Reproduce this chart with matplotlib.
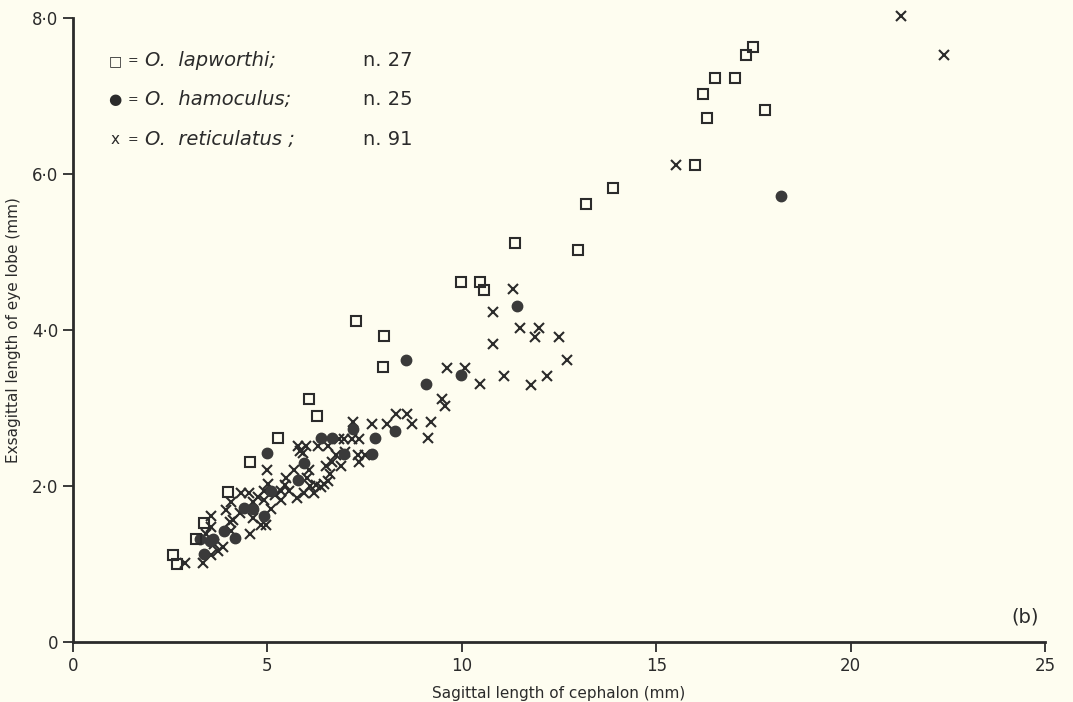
import matplotlib
matplotlib.use('Agg')
import matplotlib.pyplot as plt

# O. lapworthi (squares)
lap_x = [2.57, 2.67, 3.17, 3.36, 3.98, 4.56, 5.27, 6.08, 6.27, 7.27, 8.0, 7.98, 9.99, 10.48,
         10.58, 11.37, 13.0, 13.2, 13.9, 15.99, 16.2, 16.3, 16.5, 17.02, 17.3, 17.5, 17.8]
lap_y = [1.12, 1.00, 1.32, 1.52, 1.92, 2.31, 2.61, 3.11, 2.90, 4.12, 3.92, 3.52, 4.62, 4.62,
         4.51, 5.12, 5.02, 5.62, 5.82, 6.12, 7.02, 6.72, 7.23, 7.23, 7.53, 7.63, 6.82]

# O. hamoculus (filled circles)
ham_x = [3.37, 3.26, 3.60, 3.88, 4.17, 4.40, 4.62, 4.92, 4.98, 5.09, 5.78, 5.95, 6.38,
         6.66, 6.97, 7.19, 7.68, 7.77, 8.28, 8.57, 9.08, 9.97, 11.42, 18.2, 3.52]
ham_y = [1.13, 1.32, 1.32, 1.42, 1.33, 1.72, 1.71, 1.61, 2.42, 1.93, 2.07, 2.30, 2.61,
         2.61, 2.41, 2.73, 2.41, 2.61, 2.71, 3.62, 3.31, 3.42, 4.31, 5.72, 1.30]

# O. reticulatus (crosses)
ret_x = [21.3, 22.4, 15.5, 11.32, 10.8, 11.5, 11.99, 11.89, 12.49, 10.8, 12.7, 9.61, 10.08,
         10.46, 11.08, 11.78, 12.2, 9.5, 9.58, 9.2, 9.12, 8.08, 8.3, 8.6, 8.73, 7.68, 7.19,
         6.97, 7.17, 7.36, 5.78, 5.99, 6.31, 6.55, 6.76, 7.32, 7.36, 6.67, 4.98, 5.69, 6.08,
         6.5, 5.48, 6.03, 6.55, 6.38, 6.25, 6.46, 6.62, 5.01, 4.92, 5.35, 5.56, 5.95, 6.2,
         5.35, 4.92, 4.33, 4.52, 4.07, 3.94, 4.62, 4.62, 4.84, 4.97, 4.11, 3.55, 3.55, 4.07,
         4.56, 3.85, 3.73, 3.55, 3.34, 2.87, 5.44, 4.05, 3.43, 5.91, 6.83, 4.75, 5.2, 6.1,
         5.75, 4.3, 5.85, 7.0, 3.62, 5.1, 6.9, 7.5]
ret_y = [8.03, 7.53, 6.12, 4.52, 4.23, 4.03, 4.02, 3.91, 3.91, 3.82, 3.62, 3.51, 3.51,
         3.31, 3.41, 3.30, 3.41, 3.12, 3.03, 2.82, 2.61, 2.80, 2.92, 2.92, 2.80, 2.80, 2.82,
         2.60, 2.60, 2.60, 2.51, 2.51, 2.51, 2.51, 2.40, 2.40, 2.31, 2.31, 2.21, 2.21, 2.21,
         2.25, 2.10, 2.10, 2.06, 1.99, 2.01, 2.02, 2.15, 2.03, 1.93, 1.93, 1.93, 1.91, 1.91,
         1.82, 1.82, 1.91, 1.91, 1.80, 1.69, 1.80, 1.59, 1.50, 1.50, 1.56, 1.61, 1.48, 1.42,
         1.39, 1.22, 1.16, 1.12, 1.01, 1.01, 2.01, 1.54, 1.39, 2.42, 2.60, 1.86, 1.88, 2.00,
         1.85, 1.65, 2.45, 2.43, 1.25, 1.70, 2.25, 2.40]

legend_names = ['O.  lapworthi;', 'O.  hamoculus;', 'O.  reticulatus ;']
legend_counts = ['n. 27', 'n. 25', 'n. 91']
legend_syms = ['\u25a1', '\u25cf', 'x']

bg = '#fefdf0'
ink = '#2b2b2b'

fig = plt.figure(figsize=(10.73, 7.02), dpi=100, facecolor=bg)
ax = fig.add_axes([0.068, 0.0855, 0.906, 0.889], facecolor=bg)

ax.plot(ret_x, ret_y, 'x', ms=6.5, mew=1.5, color=ink, ls='none', clip_on=False)
ax.plot(ham_x, ham_y, 'o', ms=7.5, color='#3a3a3a', mec='#3a3a3a', ls='none')
ax.plot(lap_x, lap_y, 's', ms=7, mfc='none', mec=ink, mew=1.5, ls='none')

ax.set_xlim(0, 25)
ax.set_ylim(0, 8)
for side in ['top', 'right']:
    ax.spines[side].set_visible(False)
for side in ['left', 'bottom']:
    ax.spines[side].set_linewidth(2)
    ax.spines[side].set_color(ink)

ax.set_xticks([0, 5, 10, 15, 20, 25])
ax.set_xticklabels(['0', '5', '10', '15', '20', '25'])
ax.set_yticks([0, 2, 4, 6, 8])
ax.set_yticklabels(['0', '2\u00b70', '4\u00b70', '6\u00b70', '8\u00b70'])
ax.tick_params(direction='out', length=7, width=1.3, color=ink, labelsize=12,
               labelcolor=ink)

ax.set_xlabel('Sagittal length of cephalon (mm)', fontsize=11, color=ink, labelpad=8)
ax.set_ylabel('Exsagittal length of eye lobe (mm)', fontsize=11, color=ink, labelpad=8)

ly = [7.45, 6.95, 6.44]
for i in range(3):
    ax.text(1.08, ly[i], legend_syms[i], fontsize=11 if i else 10, color=ink,
            ha='center', va='center')
    ax.text(1.40, ly[i], '=', fontsize=9, color=ink, va='center')
    ax.text(1.85, ly[i], legend_names[i], fontsize=14, style='italic', color=ink,
            va='center')
    ax.text(7.45, ly[i], legend_counts[i], fontsize=14, color=ink, va='center')

ax.text(24.85, 0.2, '(b)', fontsize=14, color=ink, ha='right', va='bottom')

plt.savefig('out.png', dpi=100, facecolor=bg)
